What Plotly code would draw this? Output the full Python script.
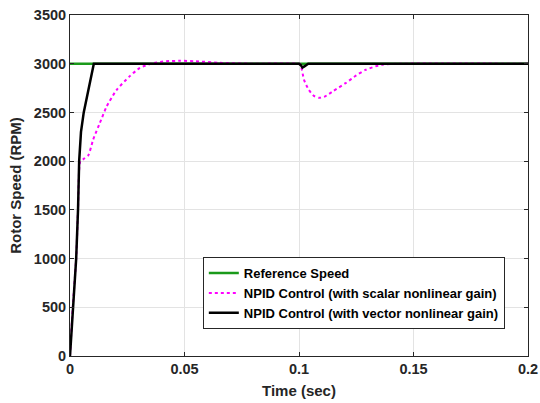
import plotly.graph_objects as go

# Reference speed
ref_t = [0, 0.2]
ref_v = [3000, 3000]

# NPID with scalar nonlinear gain (magenta dotted)
sc_t = [0, 0.0012, 0.0027, 0.0035, 0.0045, 0.0058, 0.008, 0.0101, 0.013, 0.016,
        0.0203, 0.026, 0.0304, 0.036, 0.042, 0.048, 0.055, 0.065, 0.08, 0.1,
        0.1007, 0.1022, 0.1043, 0.1065, 0.1087, 0.111, 0.115, 0.1203, 0.125,
        0.129, 0.136, 0.145, 0.2]
sc_v = [0, 500, 1000, 1500, 2000, 2020, 2060, 2220, 2390, 2560,
        2730, 2870, 2955, 3005, 3025, 3030, 3025, 3010, 3000, 3000,
        2990, 2834, 2731, 2670, 2650, 2660, 2720, 2800, 2880,
        2936, 2990, 3000, 3000]

# NPID with vector nonlinear gain (black)
vc_t = [0, 0.0012, 0.0027, 0.0035, 0.004, 0.0048, 0.006, 0.0104, 0.1, 0.1008,
        0.1015, 0.1025, 0.104, 0.2]
vc_v = [0, 500, 1000, 1500, 2000, 2300, 2500, 3000, 3000, 2985,
        2960, 2975, 3000, 3000]

x_ticks = [0, 0.05, 0.1, 0.15, 0.2]
x_labels = ["0", "0.05", "0.1", "0.15", "0.2"]
y_ticks = [0, 500, 1000, 1500, 2000, 2500, 3000, 3500]

FONT = "Liberation Sans"
fig = go.Figure()
fig.add_trace(go.Scatter(x=ref_t, y=ref_v, mode="lines", name="Reference Speed",
                         line=dict(color="#1a9a1a", width=2.5)))
fig.add_trace(go.Scatter(x=sc_t, y=sc_v, mode="lines",
                         name="NPID Control (with scalar nonlinear gain)",
                         line=dict(color="#ff00ff", width=2, dash="dot", shape="spline", smoothing=0.6)))
fig.add_trace(go.Scatter(x=vc_t, y=vc_v, mode="lines",
                         name="NPID Control (with vector nonlinear gain)",
                         line=dict(color="black", width=2.5)))

axis_common = dict(showline=True, linecolor="#262626", linewidth=1, mirror="ticks",
                   ticks="inside", ticklen=4, tickcolor="#262626", automargin=False,
                   showgrid=True, gridcolor="#e3e3e3", gridwidth=1, zeroline=False,
                   tickfont=dict(family=FONT, size=14.5, color="#262626", weight="bold"))

fig.update_layout(
    width=540, height=403,
    margin=dict(l=70, r=12, t=15, b=47),
    paper_bgcolor="white", plot_bgcolor="white",
    font=dict(family=FONT, color="#262626"),
    xaxis=dict(range=[0, 0.2], tickvals=x_ticks, ticktext=x_labels,
               title=dict(text="Time (sec)", standoff=9,
                          font=dict(family=FONT, size=15, color="#262626", weight="bold")),
               **axis_common),
    yaxis=dict(range=[0, 3500], tickvals=y_ticks,
               title=dict(text="Rotor Speed (RPM)", standoff=8,
                          font=dict(family=FONT, size=15, color="#262626", weight="bold")),
               **axis_common),
    legend=dict(x=0.29, y=0.079, xanchor="left", yanchor="bottom",
                bgcolor="white", bordercolor="#262626", borderwidth=1,
                font=dict(family=FONT, size=13, color="black", weight="bold"),
                tracegroupgap=0, itemwidth=30),
    showlegend=True,
)

fig.write_html("out.html")
